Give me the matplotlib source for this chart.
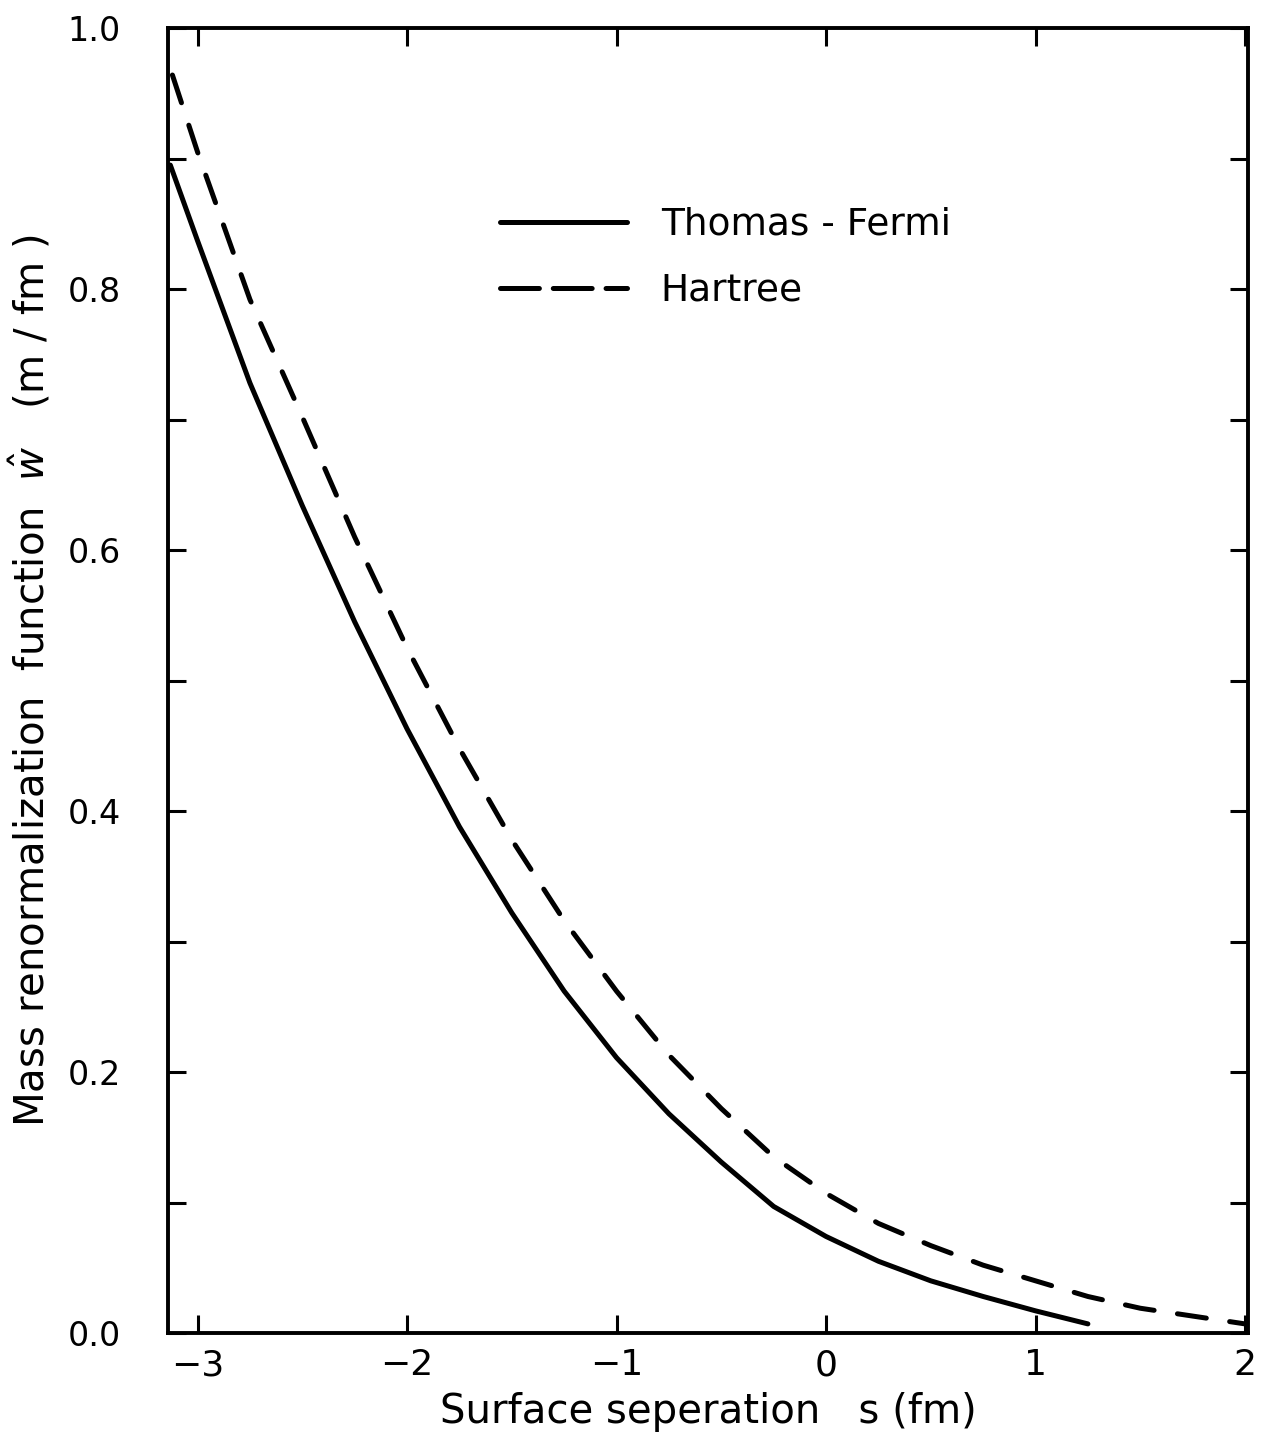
import matplotlib
matplotlib.use("Agg")
import matplotlib.pyplot as plt
from matplotlib.ticker import MultipleLocator, FixedLocator

# valores
s_tf = [-3.13, -3.0, -2.75, -2.5, -2.25, -2.0, -1.75, -1.5, -1.25, -1.0, -0.75,
        -0.5, -0.25, 0.0, 0.25, 0.5, 0.75, 1.0, 1.25]
w_tf = [0.895, 0.837, 0.728, 0.634, 0.545, 0.463, 0.388, 0.322, 0.262, 0.211, 0.168,
        0.131, 0.097, 0.074, 0.055, 0.040, 0.028, 0.017, 0.007]

s_h = [-3.12, -3.0, -2.75, -2.5, -2.25, -2.0, -1.75, -1.5, -1.25, -1.0, -0.75,
       -0.5, -0.25, 0.0, 0.25, 0.5, 0.75, 1.0, 1.25, 1.5, 1.75, 2.0]
w_h = [0.964, 0.905, 0.792, 0.702, 0.610, 0.525, 0.448, 0.378, 0.316, 0.262, 0.213,
       0.172, 0.135, 0.107, 0.084, 0.067, 0.052, 0.040, 0.028, 0.019, 0.013, 0.007]

x_ticks = [-3, -2, -1, 0, 1, 2]
x_labels = ["\u22123", "\u22122", "\u22121", "0", "1", "2"]
y_ticks = [0.0, 0.2, 0.4, 0.6, 0.8, 1.0]
y_labels = ["0.0", "0.2", "0.4", "0.6", "0.8", "1.0"]

plt.rcParams['font.family'] = ['DejaVu Sans']
plt.rcParams['lines.scale_dashes'] = False

fig = plt.figure(figsize=(12.69, 14.38), dpi=100)
ax = fig.add_axes([0.1324, 0.073, 0.851, 0.9075])

ax.plot(s_tf, w_tf, color='black', linewidth=3.6, solid_capstyle='round',
        solid_joinstyle='round', label='Thomas - Fermi')
ax.plot(s_h, w_h, color='black', linewidth=3.6, dashes=(21, 17),
        dash_capstyle='round', label='Hartree')

ax.set_xlim(-3.141, 2.014)
ax.set_ylim(0, 1.0)

# ejes y marcas
for sp in ax.spines.values():
    sp.set_linewidth(2.8)

ax.xaxis.set_major_locator(FixedLocator(x_ticks))
ax.set_xticklabels(x_labels)
ax.yaxis.set_major_locator(FixedLocator(y_ticks))
ax.set_yticklabels(y_labels)
ax.yaxis.set_minor_locator(MultipleLocator(0.1))

ax.tick_params(axis='x', which='major', direction='in', length=13, width=2.2,
               top=True, labelsize=26, pad=11)
ax.tick_params(axis='y', which='both', direction='in', length=13, width=2.2,
               right=True, labelsize=24, pad=34)

ax.set_xlabel("Surface seperation   s (fm)", fontsize=29, labelpad=7)
ax.set_ylabel("Mass renormalization  function  $\\hat{w}$   (m / fm )",
              fontsize=29, labelpad=10)

leg = ax.legend(loc='upper left', bbox_to_anchor=(0.307, 0.863), frameon=False,
                fontsize=27, handlelength=3.4, handletextpad=0.9,
                labelspacing=0.8, borderpad=0, borderaxespad=0)
leg_lines = leg.get_lines()
for h in leg_lines:
    h.set_linewidth(3.6)
leg_lines[1].set_dashes((28, 10))

fig.savefig("out.png", dpi=100, facecolor='white')
